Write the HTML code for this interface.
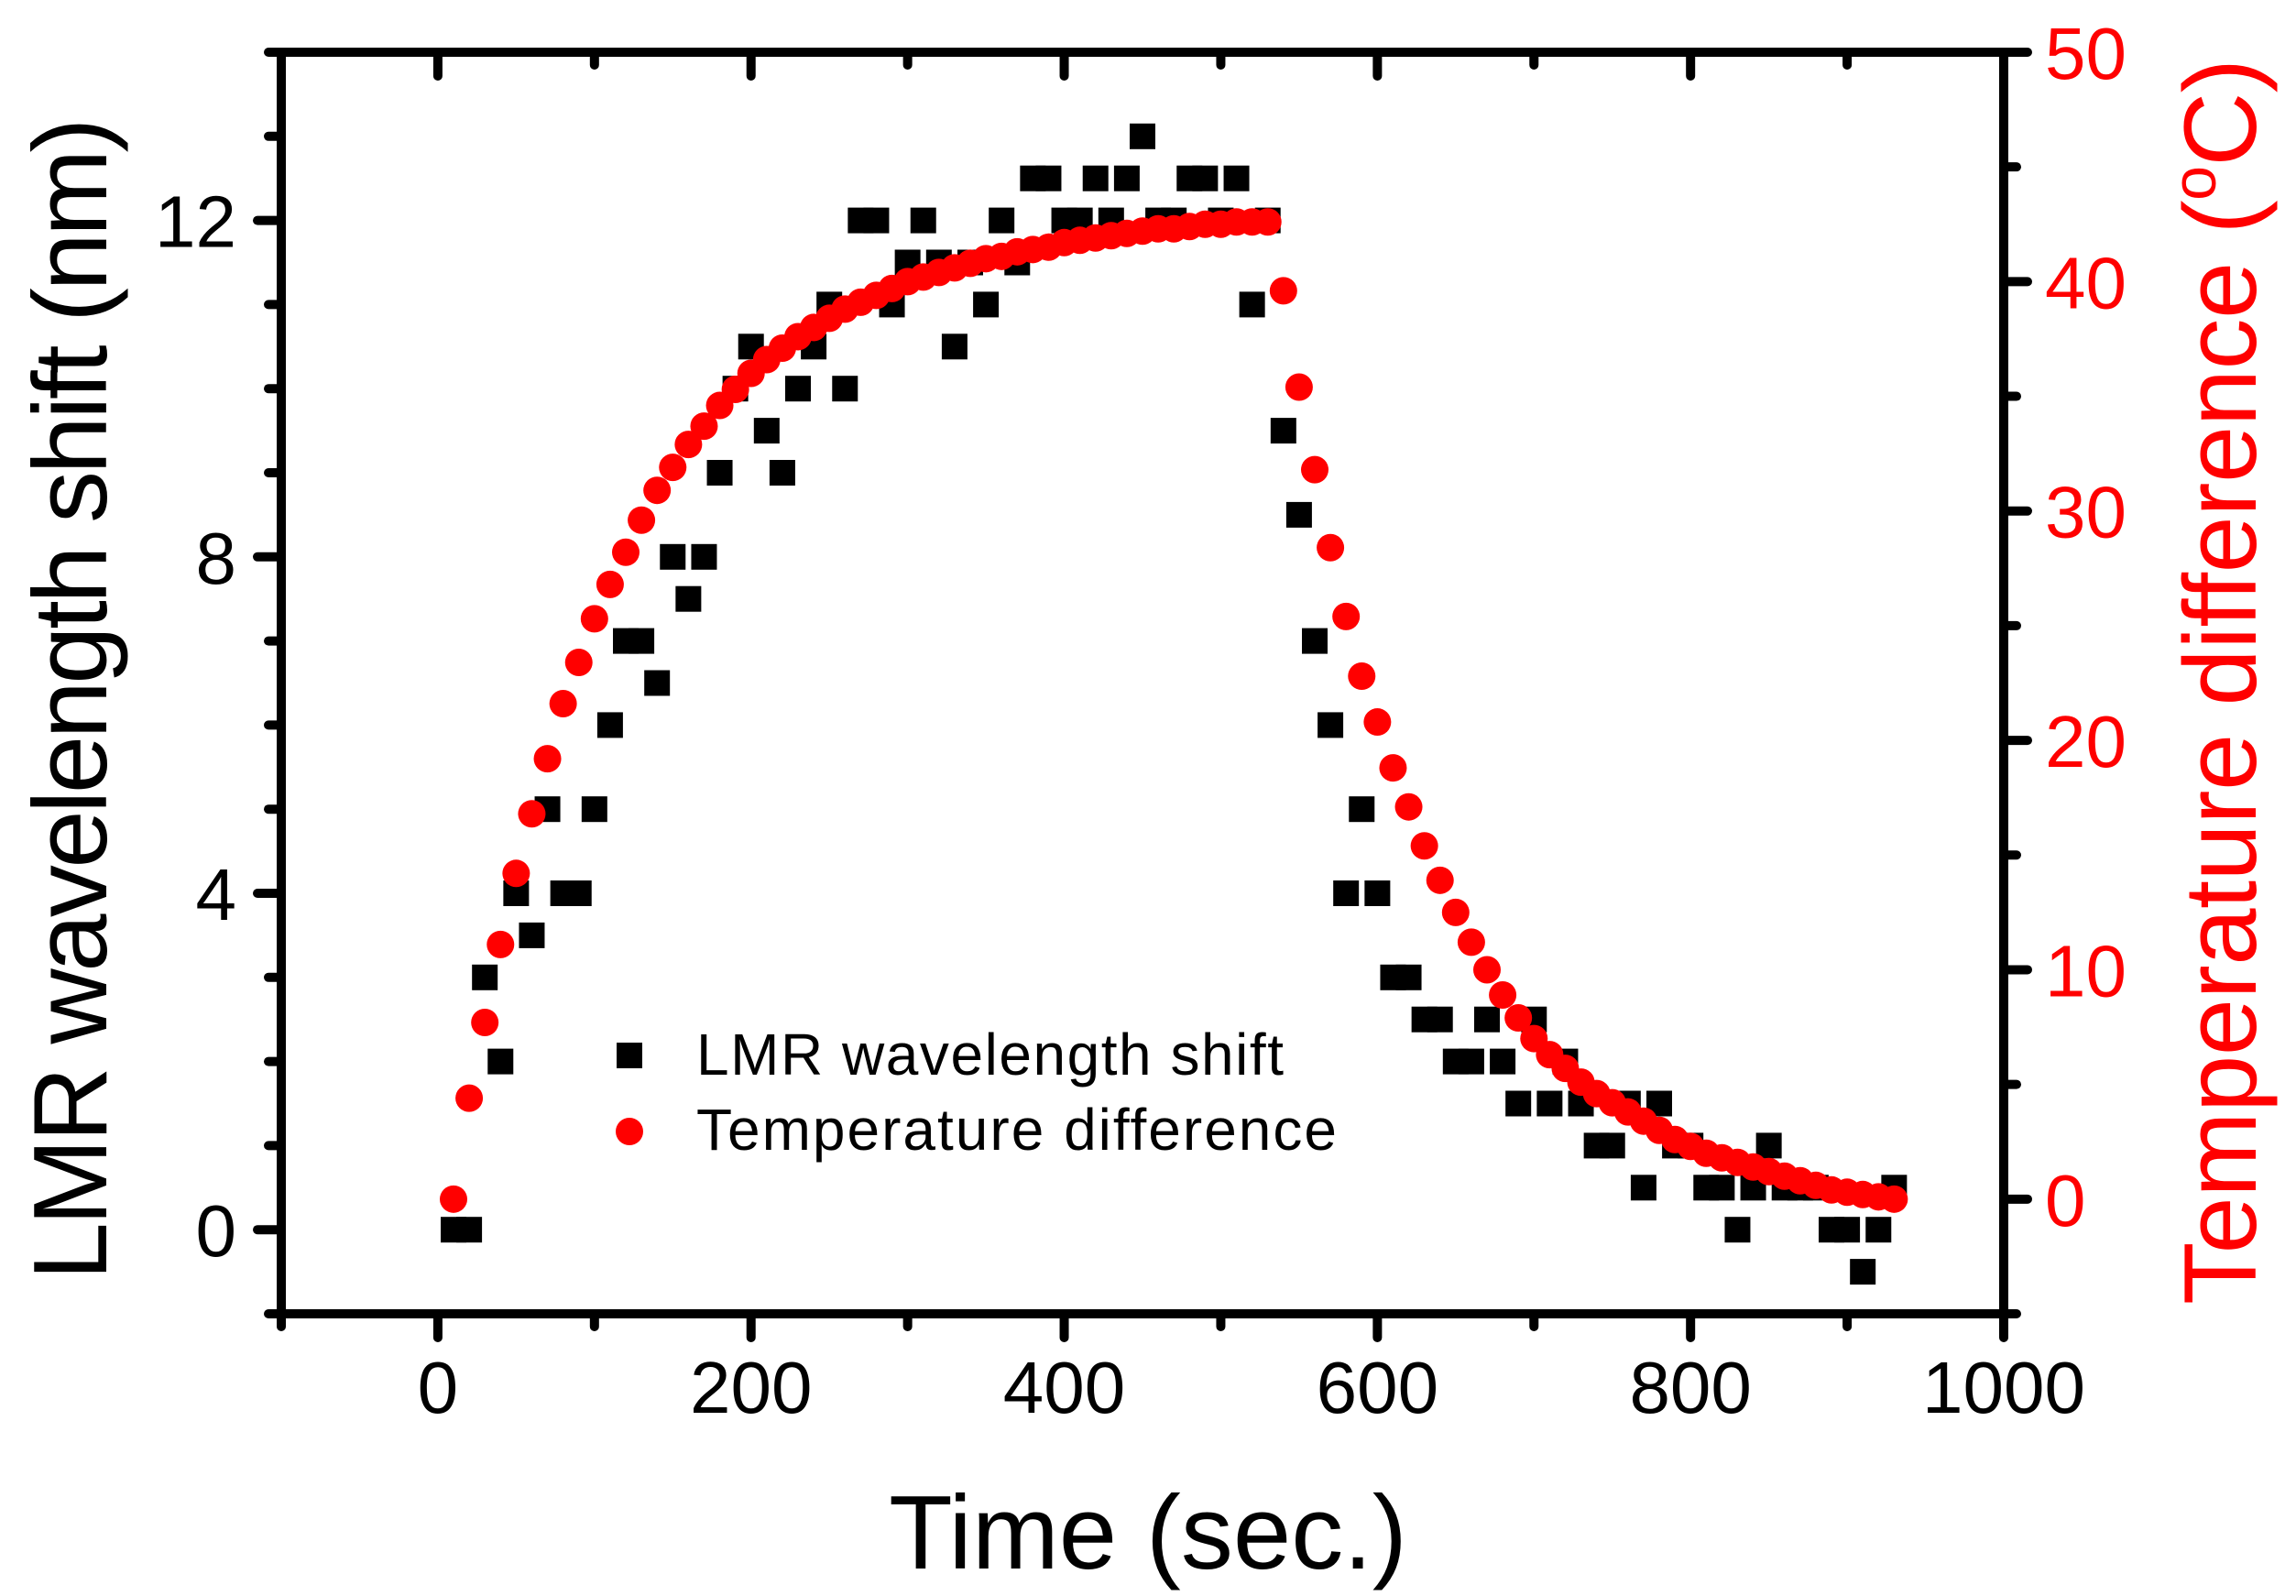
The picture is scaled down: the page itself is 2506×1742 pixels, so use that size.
<!DOCTYPE html>
<html><head><meta charset="utf-8"><style>
html,body{margin:0;padding:0;background:#fff;}
svg{display:block;font-family:"Liberation Sans",Arial,sans-serif;}
</style></head><body>
<svg id="chart" width="2506" height="1742" viewBox="0 0 2506 1742">
<g id="marks"></g>
<g id="axes"></g>
<g id="legend">
  <rect x="673" y="1138" width="28" height="28" fill="#000"/>
  <text x="760" y="1173" font-size="64" textLength="641">LMR wavelength shift</text>
  <circle cx="687" cy="1235" r="15" fill="#ff0000"/>
  <text x="760" y="1255" font-size="64" textLength="699">Temperature difference</text>
</g>
<text x="1253" y="1712" font-size="114" text-anchor="middle">Time (sec.)</text>
<text transform="translate(116,763) rotate(-90)" font-size="114" text-anchor="middle" textLength="1269">LMR wavelength shift (nm)</text>
<text transform="translate(2462,744) rotate(-90)" font-size="112" text-anchor="middle" textLength="1360" fill="#ff0000">Temperature difference (<tspan font-size="68" dy="-44">o</tspan><tspan dy="44">C)</tspan></text>
</svg>
<script>
const times = [10,20,30,40,50,60,70,80,90,100,110,120,130,140,150,160,170,180,190,200,210,220,230,240,250,260,270,280,290,300,310,320,330,340,350,360,370,380,390,400,410,420,430,440,450,460,470,480,490,500,510,520,530,540,550,560,570,580,590,600,610,620,630,640,650,660,670,680,690,700,710,720,730,740,750,760,770,780,790,800,810,820,830,840,850,860,870,880,890,900,910,920,930];
const lmrShift = [0,0,3,2,4,3.5,5,4,4,5,6,7,7,6.5,8,7.5,8,9,10,10.5,9.5,9,10,10.5,11,10,12,12,11,11.5,12,11.5,10.5,11.5,11,12,11.5,12.5,12.5,12,12,12.5,12,12.5,13,12,12,12.5,12.5,12,12.5,11,12,9.5,8.5,7,6,4,5,4,3,3,2.5,2.5,2,2,2.5,2,1.5,2.5,1.5,2,1.5,1,1,1.5,0.5,1.5,1,1,0.5,0.5,0,0.5,1,0.5,0.5,0.5,0,0,-0.5,0,0.5];
const tempDiff = [0,4.4,7.7,11.1,14.2,16.8,19.2,21.6,23.4,25.3,26.8,28.2,29.6,30.9,31.9,32.9,33.7,34.6,35.3,36.0,36.6,37.1,37.6,38.0,38.4,38.8,39.1,39.4,39.7,40.0,40.2,40.4,40.6,40.8,41.0,41.1,41.3,41.4,41.5,41.7,41.8,41.9,42.0,42.1,42.2,42.3,42.3,42.4,42.5,42.5,42.6,42.6,42.6,39.6,35.4,31.8,28.4,25.4,22.8,20.8,18.8,17.1,15.4,13.9,12.5,11.2,10.0,8.9,7.9,7.0,6.3,5.7,5.1,4.6,4.2,3.8,3.4,3.0,2.6,2.3,2.0,1.8,1.6,1.4,1.2,1.0,0.8,0.6,0.4,0.3,0.2,0.1,0];
const xTickLabels = [0,200,400,600,800,1000];
const yLeftTickLabels = [0,4,8,12];
const yRightTickLabels = [0,10,20,30,40,50];

const L=307,R=2187,T=57,B=1434;
const X=v=>L+(v+100)/1100*(R-L);
const YL=v=>B-(v+1)/15*(B-T);
const YR=v=>B-(v+5)/55*(B-T);
const NS="http://www.w3.org/2000/svg";
function mk(tag,attrs,parent){const e=document.createElementNS(NS,tag);for(const k in attrs)e.setAttribute(k,attrs[k]);parent.appendChild(e);return e;}
const marks=document.getElementById('marks');
const axes=document.getElementById('axes');

for(let i=0;i<times.length;i++){
  const s=mk('rect',{x:X(times[i])-14,y:YL(lmrShift[i])-14,width:28,height:28,fill:'#000'},marks);
  
  
}
for(let i=0;i<times.length;i++){
  const c=mk('circle',{cx:X(times[i]),cy:YR(tempDiff[i]),r:15,fill:'#ff0000'},marks);
  
  
}
const frame=mk('rect',{x:L,y:T,width:R-L,height:B-T,fill:'none',stroke:'#000','stroke-width':10},axes);


const line=(x1,y1,x2,y2)=>mk('line',{x1,y1,x2,y2,stroke:'#000','stroke-width':10,'stroke-linecap':'round'},axes);
for(let v=-100;v<=1000;v+=100){
  const maj=v%200===0, len=maj?26:14;
  const t1=line(X(v),B,X(v),B+len);
  
  
  const t2=line(X(v),T,X(v),T+len);
  
  
}
for(let v=-1;v<=14;v++){
  const maj=v%4===0, len=maj?26:14;
  const t=line(L,YL(v),L-len,YL(v));
  
  
}
for(let v=-5;v<=50;v+=5){
  const maj=v%10===0, len=maj?26:14;
  const t=line(R,YR(v),R+len,YR(v));
  
  
}
xTickLabels.forEach(v=>{
  const t=mk('text',{x:X(v),y:1542,'font-size':80,'text-anchor':'middle'},axes);t.textContent=v;
  
  
});
yLeftTickLabels.forEach(v=>{
  const t=mk('text',{x:258,y:YL(v)+29,'font-size':80,'text-anchor':'end'},axes);t.textContent=v;
  
  
});
yRightTickLabels.forEach(v=>{
  const t=mk('text',{x:2232,y:YR(v)+29,'font-size':80,fill:'#ff0000'},axes);t.textContent=v;
  
  
});
</script>
</body></html>
